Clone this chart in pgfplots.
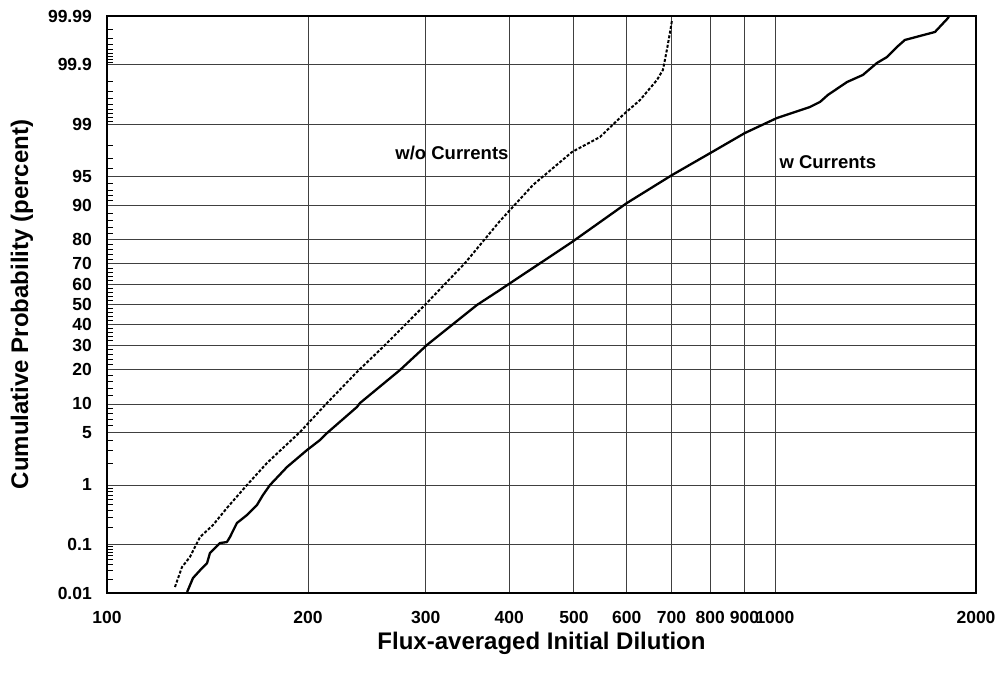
\documentclass[border=0pt]{standalone}
\usepackage{fontspec}
\setmainfont{Liberation Sans}
\usepackage{pgfplots}
\pgfplotsset{compat=1.18}
\begin{document}
\begin{tikzpicture}
\begin{axis}[
  scale only axis,
  width=869pt, height=577pt,
  xmode=log,
  xmin=100, xmax=2000,
  ymin=-3.719, ymax=3.719,
  axis line style={line width=1.8pt},
  xtick={100,200,300,400,500,600,700,800,900,1000,2000},
  xticklabels={100,200,300,400,500,600,700,800,900,1000,2000},
  ytick={-3.7190,-3.0902,-2.3263,-1.6449,-1.2816,-0.8416,-0.5244,-0.2533,0,0.2533,0.5244,0.8416,1.2816,1.6449,2.3263,3.0902,3.7190},
  yticklabels={0.01,0.1,1,5,10,20,30,40,50,60,70,80,90,95,99,99.9,99.99},
  minor ytick={-3.5401,-3.4316,-3.3528,-3.2905,-3.2389,-3.1947,-3.1559,-3.1214,
    -2.8782,-2.7478,-2.6521,-2.5758,-2.5121,-2.4573,-2.4089,-2.3656,
    -2.0537,-1.8808,-1.7507,-1.5548,-1.4758,-1.4051,-1.3408,
    -1.1750,-1.0803,-0.9945,-0.9154,-0.7722,-0.7063,-0.6433,-0.5828,
    -0.4677,-0.4125,-0.3585,-0.3055,-0.2019,-0.1510,-0.1004,-0.0502,
    0.0502,0.1004,0.1510,0.2019,0.3055,0.3585,0.4125,0.4677,
    0.5828,0.6433,0.7063,0.7722,0.9154,0.9945,1.0803,1.1750,
    1.3408,1.4051,1.4758,1.5548,1.7507,1.8808,2.0537,
    2.3656,2.4089,2.4573,2.5121,2.5758,2.6521,2.7478,2.8782,
    3.1214,3.1559,3.1947,3.2389,3.2905,3.3528,3.4316,3.5401},
  minor x tick num=0,
  ytick pos=left,
  xtick pos=bottom,
  tick align=inside,
  major tick length=0pt,
  minor tick length=6pt,
  minor tick style={line width=0.8pt, black},
  ymajorgrids, xmajorgrids,
  major grid style={line width=0.8pt, black!75},
  xticklabel style={font=\fontsize{17.5}{17.5}\selectfont\bfseries, anchor=center, yshift=-24pt},
  yticklabel style={font=\fontsize{17.5}{17.5}\selectfont\bfseries, anchor=east, inner sep=0pt, xshift=-15pt},
  xlabel={Flux-averaged Initial Dilution},
  ylabel={Cumulative Probability (percent)},
  xlabel style={font=\fontsize{24}{24}\selectfont\bfseries, at={(axis description cs:0.5,0)}, anchor=center, yshift=-50pt},
  ylabel style={font=\fontsize{24}{24}\selectfont\bfseries, at={(axis description cs:0,0.5)}, anchor=center, yshift=85pt},
  clip=true,
]
% w Currents (solid); y = standard normal quantile of the cumulative probability
\addplot[black, line width=2.3pt, line join=round] coordinates {
(131.8,-3.706) (134.5,-3.526) (138.8,-3.397) (141.2,-3.333) (142.6,-3.204)
(145.1,-3.139) (147.6,-3.075) (151.2,-3.062) (152.8,-2.997) (156.5,-2.817)
(162.0,-2.714) (167.7,-2.585) (171.2,-2.456) (175.4,-2.327) (186.0,-2.095)
(199.3,-1.876) (208.4,-1.747) (213.5,-1.657) (236.7,-1.321) (239.2,-1.270)
(274.6,-0.844) (301.3,-0.522) (358.0,-0.006) (387.5,0.187) (496.8,0.806)
(600.2,1.308) (701.4,1.669) (805.2,1.966) (901.7,2.211) (1006.9,2.404)
(1128,2.546) (1168,2.611) (1200,2.701) (1282,2.868) (1354,2.959)
(1421,3.113) (1472,3.191) (1523,3.320) (1565,3.410) (1736,3.513)
(1816,3.693) (1822,3.719)
};
% w/o Currents (dotted)
\addplot[black, line width=2pt, dash pattern=on 3pt off 1.8pt] coordinates {
(126.4,-3.642) (129.5,-3.384) (133.1,-3.255) (137.8,-2.997) (144.1,-2.843)
(151.2,-2.623) (162.0,-2.327) (173.6,-2.043) (194.5,-1.644) (213.5,-1.270)
(236.7,-0.870) (258.9,-0.548) (299.2,-0.006) (343.6,0.535) (387.5,1.076)
(434.3,1.541) (496.8,1.966) (547.1,2.159) (592.1,2.443) (628.1,2.636)
(665.8,2.894) (679.6,3.023) (689.0,3.281) (696.2,3.500) (701.4,3.668)
};
\node[font=\fontsize{18.5}{18.5}\selectfont\bfseries] at (axis cs:328.4,1.953) {w/o Currents};
\node[font=\fontsize{18.5}{18.5}\selectfont\bfseries] at (axis cs:1200,1.837) {w Currents};
\end{axis}
\pgfresetboundingbox
\path[use as bounding box] ([xshift=-107pt,yshift=-84pt]current axis.south west) rectangle ([xshift=25pt,yshift=16pt]current axis.north east);
\end{tikzpicture}
\end{document}
